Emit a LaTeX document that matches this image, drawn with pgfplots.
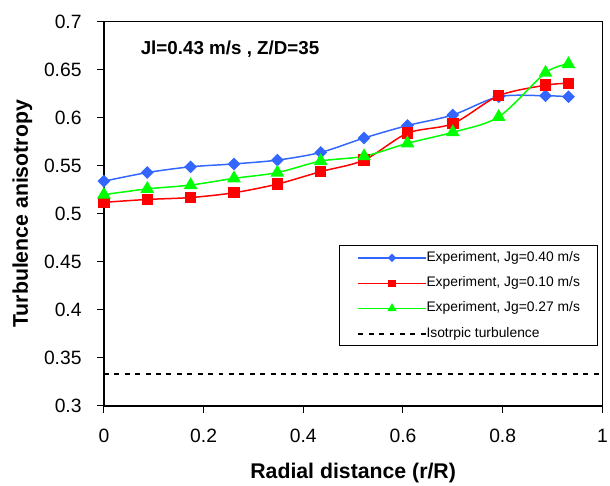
\documentclass[border=0pt]{standalone}
\usepackage{fontspec}
\setmainfont{Liberation Sans}
\usepackage{pgfplots}
\pgfplotsset{compat=1.18}

\definecolor{xlblue}{RGB}{51,102,255}
\definecolor{xlred}{RGB}{255,0,0}
\definecolor{xlgreen}{RGB}{0,255,0}

\begin{document}
\begin{tikzpicture}
\begin{axis}[
  scale only axis, width=502.3bp, height=387bp,
  at={(0,0)}, anchor=south west,
  xmin=0, xmax=1, ymin=0.3, ymax=0.7,
  xtick={0,0.2,0.4,0.6,0.8,1},
  ytick={0.3,0.35,0.4,0.45,0.5,0.55,0.6,0.65,0.7},
  tick pos=left, tick align=outside, major tick length=7bp,
  axis line style={line width=1.3bp},
  tick style={black, line width=1bp},
  /pgf/number format/assume math mode=true,
  /pgf/number format/fixed,
  ticklabel style={font=\fontsize{19.5}{21}\selectfont},
  xticklabel style={yshift=-13bp},
  yticklabel style={xshift=-12bp},
  xlabel={Radial distance (r/R)},
  ylabel={Turbulence anisotropy},
  label style={font=\bfseries\fontsize{21.5}{24}\selectfont},
  xlabel style={at={(axis description cs:0.5,0)}, anchor=center, yshift=-68bp},
  ylabel style={at={(axis description cs:-0.1633,0.5)}, anchor=center},
  clip=false,
  legend cell align=left,
  legend image code/.code={%
    \draw[mark repeat=2,mark phase=2,#1] plot coordinates {(0bp,0bp) (34bp,0bp) (68bp,0bp)};},
  legend style={at={(axis cs:0.472,0.4673)}, anchor=north west,
    draw=black, line width=1bp,
    font=\fontsize{14}{16}\selectfont,
    inner xsep=18bp, inner ysep=6bp,
    row sep=13bp,
    nodes={inner sep=0bp, text height=9.5bp, text depth=3bp},
    /tikz/every even column/.append style={column sep=3bp}},
]
% experiment, Jg=0.40 m/s
\addplot[forget plot, color=xlblue, line width=1.5bp, smooth, tension=0.5,
  mark=square*, mark size=3.8bp, mark options={rotate=45, solid}]
  coordinates {(0,0.534)(0.087,0.543)(0.174,0.549)(0.261,0.552)(0.348,0.556)(0.435,0.564)
    (0.522,0.579)(0.609,0.592)(0.700,0.603)(0.792,0.622)(0.886,0.623)(0.932,0.622)};
% experiment, Jg=0.10 m/s
\addplot[forget plot, color=xlred, line width=1.5bp, smooth, tension=0.5,
  mark=square*, mark size=5bp]
  coordinates {(0,0.512)(0.087,0.515)(0.174,0.517)(0.261,0.522)(0.348,0.531)(0.435,0.544)
    (0.522,0.556)(0.609,0.584)(0.700,0.594)(0.792,0.623)(0.886,0.634)(0.932,0.636)};
% experiment, Jg=0.27 m/s
\addplot[forget plot, color=xlgreen, line width=1.5bp, smooth, tension=0.5,
  mark=triangle*, mark size=6.5bp]
  coordinates {(0,0.520)(0.087,0.526)(0.174,0.530)(0.261,0.537)(0.348,0.543)(0.435,0.555)
    (0.522,0.560)(0.609,0.5735)(0.700,0.585)(0.792,0.601)(0.886,0.647)(0.932,0.656)};
% isotropic value 1/3
\addplot[forget plot, black, line width=1.5bp, dash pattern=on 5bp off 5.5bp]
  coordinates {(0,0.3333)(1,0.3333)};

\addlegendimage{color=xlblue, line width=1.4bp, mark=square*, mark size=2.3bp, mark options={rotate=45}}
\addlegendentry{Experiment, Jg=0.40 m/s}
\addlegendimage{color=xlred, line width=1.4bp, mark=square*, mark size=3bp}
\addlegendentry{Experiment, Jg=0.10 m/s}
\addlegendimage{color=xlgreen, line width=1.4bp, mark=triangle*, mark size=4bp}
\addlegendentry{Experiment, Jg=0.27 m/s}
\addlegendimage{black, line width=1.5bp, dash pattern=on 5bp off 5.5bp}
\addlegendentry{Isotrpic turbulence}

\node[anchor=west, inner sep=0pt, font=\bfseries\fontsize{19}{22}\selectfont]
  at (axis cs:0.0736,0.6718) {Jl=0.43 m/s , Z/D=35};
\end{axis}
\pgfresetboundingbox
\path (-104.7bp,-80bp) rectangle (510bp,409bp);
\end{tikzpicture}
\end{document}
